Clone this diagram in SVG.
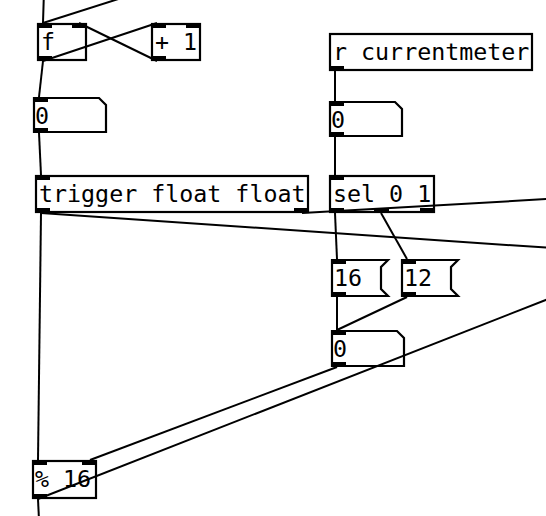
<svg xmlns="http://www.w3.org/2000/svg" width="546" height="516" viewBox="0 0 546 516">
<style>
.box{fill:none;stroke:#000;stroke-width:2.2}
.io{fill:#000}
.c{stroke:#000;stroke-width:2;fill:none}
text{font-family:"DejaVu Sans Mono","Liberation Mono",monospace;font-size:23.3px;fill:#000}
</style>
<rect width="546" height="516" fill="#fff"/>
<g id="connectors">
<line class="c" x1="44" y1="-10" x2="43" y2="23"/>
<line class="c" x1="43" y1="23" x2="178" y2="-20"/>
<line class="c" x1="43" y1="61" x2="157" y2="23"/>
<line class="c" x1="157" y1="61" x2="79" y2="23"/>
<line class="c" x1="43" y1="61" x2="39" y2="97"/>
<line class="c" x1="39" y1="133" x2="41" y2="175"/>
<line class="c" x1="41" y1="213" x2="38" y2="460"/>
<line class="c" x1="41" y1="213" x2="600" y2="251.3"/>
<line class="c" x1="302" y1="213" x2="600" y2="196"/>
<line class="c" x1="335" y1="71" x2="335" y2="101"/>
<line class="c" x1="335" y1="137" x2="335" y2="175"/>
<line class="c" x1="335" y1="213" x2="337" y2="259"/>
<line class="c" x1="381" y1="213" x2="407" y2="259"/>
<line class="c" x1="337" y1="297" x2="337" y2="330"/>
<line class="c" x1="407" y1="297" x2="337" y2="330"/>
<line class="c" x1="337" y1="367" x2="90" y2="460"/>
<line class="c" x1="38" y1="499" x2="600" y2="278.7"/>
<line class="c" x1="38" y1="499" x2="39" y2="520"/>
</g>
<g id="f">
<rect class="box" x="38" y="24" width="48" height="36"/>
<rect class="io" x="37" y="23" width="15" height="5"/>
<rect class="io" x="72" y="23" width="15" height="5"/>
<rect class="io" x="37" y="56" width="15" height="5"/>
<text x="41" y="50">f</text>
</g>
<g id="plus1">
<rect class="box" x="152" y="24" width="48" height="36"/>
<rect class="io" x="151" y="23" width="15" height="5"/>
<rect class="io" x="186" y="23" width="15" height="5"/>
<rect class="io" x="151" y="56" width="15" height="5"/>
<text x="155" y="50">+ 1</text>
</g>
<g id="numA">
<path class="box" d="M34,98 H99 L106,105 V132 H34 Z"/>
<rect class="io" x="33" y="97" width="15" height="5"/>
<rect class="io" x="33" y="128" width="15" height="5"/>
<text x="35" y="124">0</text>
</g>
<g id="rcurrentmeter">
<rect class="box" x="330" y="34" width="202" height="36"/>
<rect class="io" x="329" y="66" width="15" height="5"/>
<text x="333" y="60">r currentmeter</text>
</g>
<g id="numB">
<path class="box" d="M330,102 H395 L402,109 V136 H330 Z"/>
<rect class="io" x="329" y="101" width="15" height="5"/>
<rect class="io" x="329" y="132" width="15" height="5"/>
<text x="331" y="128">0</text>
</g>
<g id="trigger">
<rect class="box" x="36" y="176" width="272" height="36"/>
<rect class="io" x="35" y="175" width="15" height="5"/>
<rect class="io" x="35" y="208" width="15" height="5"/>
<rect class="io" x="294" y="208" width="15" height="5"/>
<text x="39" y="202">trigger float float</text>
</g>
<g id="sel">
<rect class="box" x="330" y="176" width="104" height="36"/>
<rect class="io" x="329" y="175" width="15" height="5"/>
<rect class="io" x="329" y="208" width="15" height="5"/>
<rect class="io" x="374" y="208" width="15" height="5"/>
<rect class="io" x="420" y="208" width="15" height="5"/>
<text x="333" y="202">sel 0 1</text>
</g>
<g id="msg16">
<path class="box" d="M332,260 H388 L381,267 V289 L388,296 H332 Z"/>
<rect class="io" x="331" y="259" width="15" height="5"/>
<rect class="io" x="331" y="292" width="15" height="5"/>
<text x="334" y="286">16</text>
</g>
<g id="msg12">
<path class="box" d="M402,260 H458 L451,267 V289 L458,296 H402 Z"/>
<rect class="io" x="401" y="259" width="15" height="5"/>
<rect class="io" x="401" y="292" width="15" height="5"/>
<text x="404" y="286">12</text>
</g>
<g id="numC">
<path class="box" d="M332,331 H397 L404,338 V366 H332 Z"/>
<rect class="io" x="331" y="330" width="15" height="5"/>
<rect class="io" x="331" y="362" width="15" height="5"/>
<text x="333" y="357">0</text>
</g>
<g id="mod16">
<rect class="box" x="33" y="461" width="63" height="37"/>
<rect class="io" x="32" y="460" width="15" height="5"/>
<rect class="io" x="82" y="460" width="15" height="5"/>
<rect class="io" x="32" y="494" width="15" height="5"/>
<text x="35" y="487">% 16</text>
</g>
</svg>
